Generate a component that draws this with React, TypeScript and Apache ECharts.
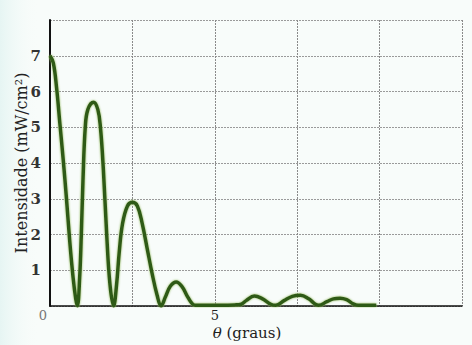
import React, { useEffect, useRef } from "react";
import * as echarts from "echarts";

// theta (degrees) and intensity (mW/cm^2)
const theta = [
  0, 0.1, 0.2, 0.3, 0.4, 0.5, 0.6, 0.7, 0.78, 0.83,
  0.9, 0.95, 1.0, 1.07, 1.15, 1.32, 1.45, 1.53, 1.62, 1.72, 1.82, 1.93,
  2.02, 2.1, 2.2, 2.35, 2.5, 2.65, 2.8, 2.95, 3.1, 3.25, 3.37,
  3.5, 3.65, 3.83, 4.0, 4.15, 4.3, 4.4,
  4.8, 5.2, 5.6, 5.8,
  5.95, 6.2, 6.45, 6.7, 6.85,
  7.1, 7.35, 7.6, 7.85, 8.05, 8.15,
  8.4, 8.6, 8.8, 9.0, 9.2, 9.35, 9.9,
];
const intensity = [
  7.0, 6.8, 6.1, 5.1, 4.1, 3.0, 1.8, 0.8, 0.2, 0.0,
  0.8, 2.0, 3.5, 5.0, 5.5, 5.7, 5.5, 5.0, 3.8, 2.0, 0.6, 0.0,
  0.6, 1.5, 2.3, 2.8, 2.9, 2.8, 2.3, 1.6, 0.9, 0.3, 0.0,
  0.25, 0.55, 0.67, 0.55, 0.3, 0.08, 0.02,
  0.02, 0.02, 0.03, 0.05,
  0.15, 0.28, 0.2, 0.05, 0.02,
  0.15, 0.27, 0.3, 0.2, 0.05, 0.02,
  0.12, 0.2, 0.22, 0.18, 0.06, 0.02, 0.02,
];
const xTickLabels = ["0", "5"];
const yTickLabels = ["1", "2", "3", "4", "5", "6", "7"];

const SERIF = "DejaVu Serif, Liberation Serif, serif";

export default function App() {
  const ref = useRef<HTMLDivElement>(null);
  useEffect(() => {
    if (!ref.current) return;
    const chart = echarts.init(ref.current, undefined, { renderer: "svg" });
    const data = theta.map((t, i) => [t, intensity[i]]);
    chart.setOption({
      animation: false,
      backgroundColor: "#f8fcfa",
      graphic: [
        {
          type: "rect",
          z: -10,
          silent: true,
          shape: { x: 0, y: 0, width: 40, height: 345 },
          style: {
            fill: new echarts.graphic.LinearGradient(0, 0, 1, 0, [
              { offset: 0, color: "#e6f5f3" },
              { offset: 1, color: "rgba(248,252,250,0)" },
            ]),
          },
        },
      ],
      grid: {
        left: 50,
        right: 10,
        top: 20,
        bottom: 39,
        containLabel: false,
        outerBoundsMode: "none",
      },
      xAxis: {
        type: "value",
        min: 0,
        max: 12.5,
        interval: 2.5,
        name: "{i|θ} (graus)",
        nameLocation: "middle",
        nameGap: 19,
        nameMoveOverlap: false,
        nameTextStyle: {
          fontFamily: SERIF,
          fontSize: 15,
          color: "#222",
          padding: [0, 18, 0, 0],
          rich: { i: { fontStyle: "italic", fontFamily: SERIF, fontSize: 15, color: "#222" } },
        },
        axisLine: { show: true, lineStyle: { color: "#111", width: 1.5 } },
        axisTick: { show: false },
        axisLabel: {
          margin: 3,
          fontFamily: SERIF,
          fontSize: 13,
          color: "#222",
          formatter: (v: number) => {
            if (v === 0) return "{z|" + xTickLabels[0] + "}";
            if (v === 5) return xTickLabels[1];
            return "";
          },
          rich: { z: { color: "#777", fontFamily: SERIF, fontSize: 13, padding: [0, 14, 0, 0] } },
        },
        splitLine: { show: true, lineStyle: { color: "#8a8a8a", width: 1, type: [2, 1] } },
      },
      yAxis: {
        type: "value",
        min: 0,
        max: 8,
        interval: 1,
        name: "Intensidade (mW/cm²)",
        nameLocation: "middle",
        nameGap: 21,
        nameMoveOverlap: false,
        nameTextStyle: { fontFamily: SERIF, fontSize: 16, color: "#222" },
        axisLine: { show: true, lineStyle: { color: "#111", width: 2 } },
        axisTick: { show: false },
        axisLabel: {
          margin: 9,
          fontFamily: SERIF,
          fontSize: 15,
          fontWeight: "bold",
          color: "#333",
          formatter: (v: number) => (v >= 1 && v <= 7 ? yTickLabels[v - 1] : ""),
        },
        splitLine: { show: true, lineStyle: { color: "#9a9a9a", width: 1, type: [2, 1] } },
      },
      series: [
        {
          type: "line",
          data,
          smooth: 0.4,
          showSymbol: false,
          symbol: "none",
          lineStyle: { color: "#2f5a16", width: 3.5, shadowColor: "#8fb85a", shadowBlur: 2 },
          z: 5,
        },
      ],
    });
    return () => chart.dispose();
  }, []);
  return (
    <div
      ref={ref}
      style={{ position: "fixed", left: 0, top: 0, width: 472, height: 345 }}
    />
  );
}
